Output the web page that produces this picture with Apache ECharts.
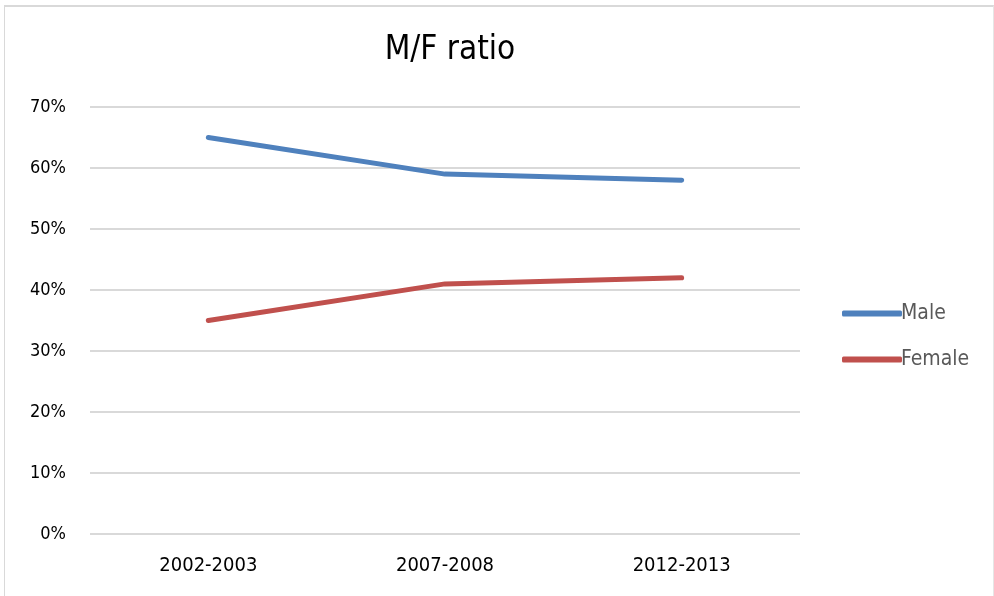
<!DOCTYPE html>
<html>
<head>
<meta charset="utf-8">
<script src="https://cdn.jsdelivr.net/npm/echarts@6/dist/echarts.min.js"></script>
<style>
    html, body { margin: 0; padding: 0; background: #fff; }
    #frame {
        position: absolute; left: 4px; top: 5px; width: 988px; height: 600px;
        border-top: 2px solid #d9d9d9; border-left: 1px solid #d9d9d9; border-right: 1px solid #e6e6e6;
    }
    #chart { position: absolute; left: 0; top: 0; width: 994px; height: 596px; }
</style>
</head>
<body>
<div id="frame"></div>
<div id="chart"></div>
<script>
    // data
    var categories = ['2002-2003', '2007-2008', '2012-2013'];
    var maleValues = [65, 59, 58];
    var femaleValues = [35, 41, 42];
    var yTicks = [0, 10, 20, 30, 40, 50, 60, 70];

    var font = '"Liberation Sans Narrow", "DejaVu Sans Condensed", "Open Sans", sans-serif';

    var option = {
        animation: false,
        title: {
            text: 'M/F ratio',
            left: 445,
            textAlign: 'center',
            top: 29,
            textStyle: { fontFamily: font, fontSize: 33, fontWeight: 'normal', color: '#000' }
        },
        legend: {
            orient: 'vertical',
            left: 837,
            top: 298,
            itemGap: 25,
            itemWidth: 60,
            itemHeight: 6,
            icon: 'roundRect',
            textStyle: { fontFamily: font, fontSize: 21, color: '#595959', padding: [0, 0, 0, -6] },
            data: ['Male', 'Female']
        },
        grid: { left: 90, right: 194, top: 107, bottom: 62 },
        xAxis: {
            type: 'category',
            data: categories,
            axisLine: { show: false },
            axisTick: { show: false },
            axisLabel: { fontFamily: font, fontSize: 20, color: '#000', margin: 22 }
        },
        yAxis: {
            type: 'value',
            min: yTicks[0],
            max: yTicks[yTicks.length - 1],
            interval: 10,
            axisLabel: {
                fontFamily: font, fontSize: 18, color: '#000', margin: 24,
                formatter: function (v) { return v + '%'; }
            },
            splitLine: { lineStyle: { color: '#d9d9d9', width: 2 } }
        },
        series: [
            {
                name: 'Male',
                type: 'line',
                data: maleValues,
                showSymbol: false,
                symbol: 'none',
                itemStyle: { color: '#4f81bd' },
                lineStyle: { color: '#4f81bd', width: 5, cap: 'round', join: 'round' }
            },
            {
                name: 'Female',
                type: 'line',
                data: femaleValues,
                showSymbol: false,
                symbol: 'none',
                itemStyle: { color: '#c0504d' },
                lineStyle: { color: '#c0504d', width: 5, cap: 'round', join: 'round' }
            }
        ]
    };

    var chart = echarts.init(document.getElementById('chart'));
    chart.setOption(option);
</script>
</body>
</html>
